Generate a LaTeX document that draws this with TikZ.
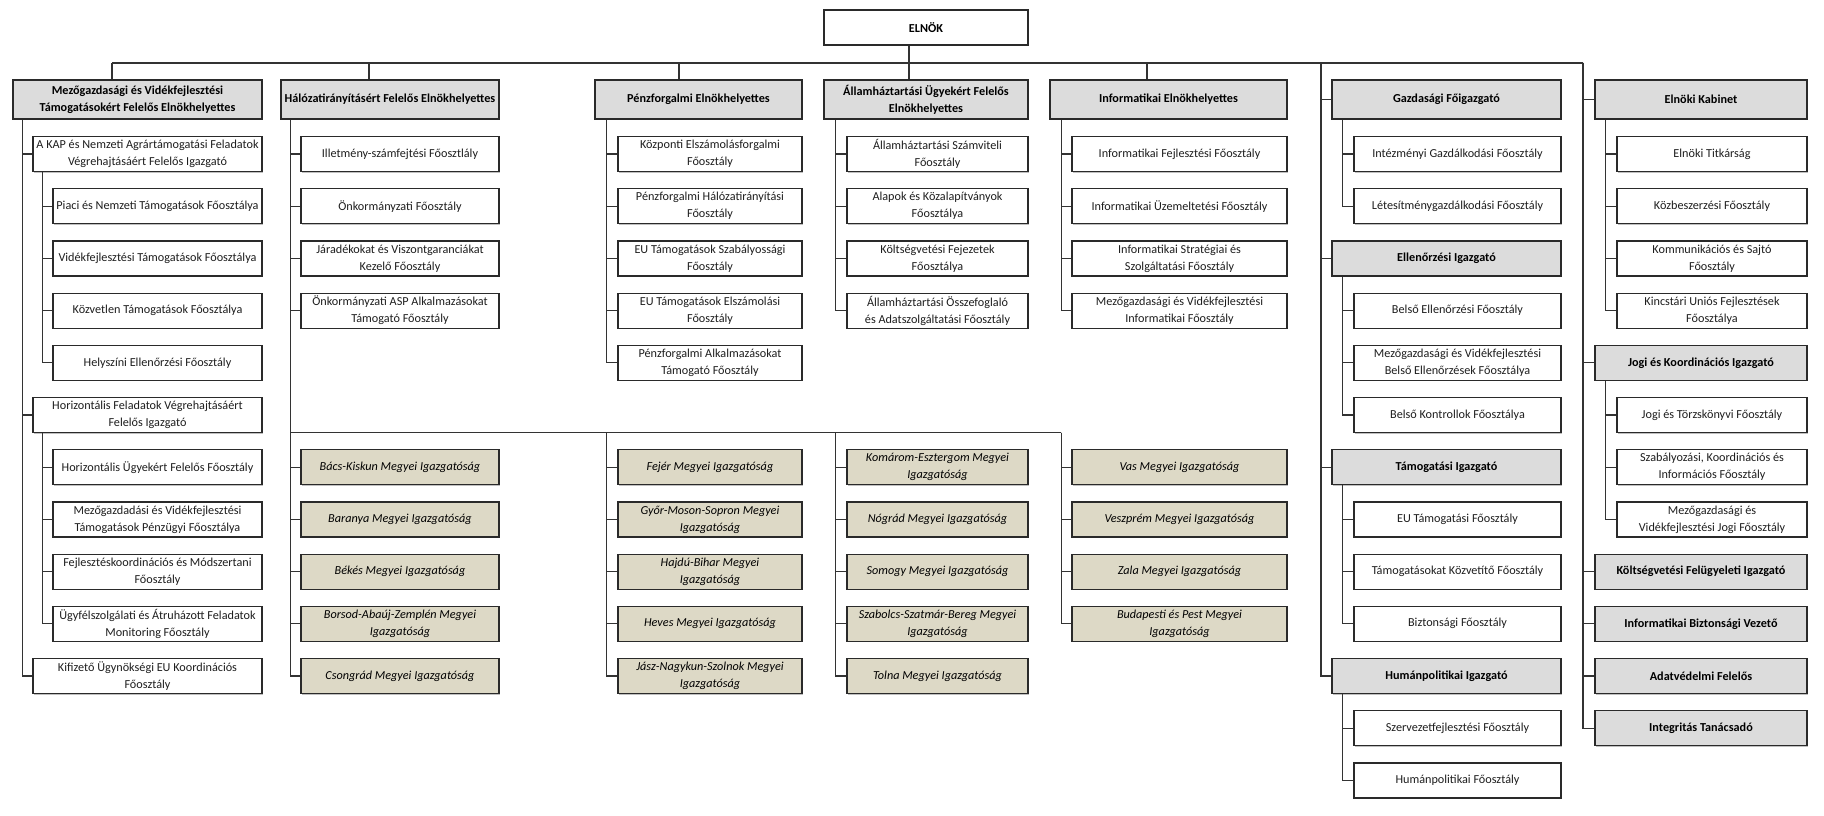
\documentclass[tikz,border=0pt]{standalone}
\usepackage{fontspec}
\setmainfont{Carlito}
\usetikzlibrary{shadows}
\definecolor{linec}{HTML}{333333}
\definecolor{boxline}{HTML}{2A2A2A}
\definecolor{hdrfill}{HTML}{DCDCDC}
\definecolor{cntyfill}{HTML}{DDD9C6}
\definecolor{txt}{HTML}{1E1E1E}
\begin{document}
\begin{tikzpicture}[x=1pt,y=-1pt,
  box/.style={draw=boxline, line width=1.2pt, fill=white, align=center, inner sep=0pt,
    minimum height=35pt, text=txt, font=\fontsize{12.2}{17}\selectfont,
    drop shadow={shadow xshift=0.9pt, shadow yshift=-1.1pt, opacity=0.25, fill=black}},
  hdr/.style={box, fill=hdrfill, text=black, font=\fontsize{12.2}{17}\selectfont\bfseries},
  cnty/.style={box, fill=cntyfill, text=black, font=\fontsize{12.2}{17}\selectfont\itshape},
  toprow/.style={minimum height=39pt},
  link/.style={draw=linec, line width=1.2pt},
  wAa/.style={minimum width=249pt}, wAb/.style={minimum width=229pt}, wAc/.style={minimum width=209pt},
  wBa/.style={minimum width=218pt}, wBb/.style={minimum width=198pt},
  wCa/.style={minimum width=207pt}, wCb/.style={minimum width=184pt},
  wDa/.style={minimum width=204pt}, wDb/.style={minimum width=181pt},
  wEa/.style={minimum width=237pt}, wEb/.style={minimum width=215pt},
  wFa/.style={minimum width=229pt}, wFb/.style={minimum width=207pt},
  wGa/.style={minimum width=212pt}, wGb/.style={minimum width=190pt}]
\fill[white] (0,0) rectangle (1824,816);
\useasboundingbox (0,0) rectangle (1824,816);

% ---------------- top ----------------
\node[box,wDa,font=\fontsize{12.2}{17}\selectfont\bfseries,text=black] (elnok) at (926,27.5) {ELNÖK};

% ---------------- column 1 ----------------
\node[hdr,toprow,wAa] (h1) at (137.5,99.5) {Mezőgazdasági és Vidékfejlesztési\\Támogatásokért Felelős Elnökhelyettes};
\node[box,wAb] (a1) at (147.5,154.0) {A KAP és Nemzeti Agrártámogatási Feladatok\\Végrehajtásáért Felelős Igazgató};
\node[box,wAc] (a1c1) at (157.5,206.2) {Piaci és Nemzeti Támogatások Főosztálya};
\node[box,wAc] (a1c2) at (157.5,258.4) {Vidékfejlesztési Támogatások Főosztálya};
\node[box,wAc] (a1c3) at (157.5,310.6) {Közvetlen Támogatások Főosztálya};
\node[box,wAc] (a1c4) at (157.5,362.8) {Helyszíni Ellenőrzési Főosztály};
\node[box,wAb] (a2) at (147.5,415.0) {Horizontális Feladatok Végrehajtásáért\\Felelős Igazgató};
\node[box,wAc] (a2c1) at (157.5,467.2) {Horizontális Ügyekért Felelős Főosztály};
\node[box,wAc] (a2c2) at (157.5,519.4) {Mezőgazdadási és Vidékfejlesztési\\Támogatások Pénzügyi Főosztálya};
\node[box,wAc] (a2c3) at (157.5,571.6) {Fejlesztéskoordinációs és Módszertani\\Főosztály};
\node[box,wAc] (a2c4) at (157.5,623.8) {Ügyfélszolgálati és Átruházott Feladatok\\Monitoring Főosztály};
\node[box,wAb] (a3) at (147.5,676.0) {Kifizető Ügynökségi EU Koordinációs\\Főosztály};

% ---------------- column 2 ----------------
\node[hdr,toprow,wBa] (h2) at (390,99.5) {Hálózatirányításért Felelős Elnökhelyettes};
\node[box,wBb] (b1) at (400,154.0) {Illetmény-számfejtési Főosztlály};
\node[box,wBb] (b2) at (400,206.2) {Önkormányzati Főosztály};
\node[box,wBb] (b3) at (400,258.4) {Járadékokat és Viszontgaranciákat\\Kezelő Főosztály};
\node[box,wBb] (b4) at (400,310.6) {Önkormányzati ASP Alkalmazásokat\\Támogató Főosztály};
\node[cnty,wBb] (m1) at (400,467.2) {Bács-Kiskun Megyei Igazgatóság};
\node[cnty,wBb] (m2) at (400,519.4) {Baranya Megyei Igazgatóság};
\node[cnty,wBb] (m3) at (400,571.6) {Békés Megyei Igazgatóság};
\node[cnty,wBb] (m4) at (400,623.8) {Borsod-Abaúj-Zemplén Megyei\\Igazgatóság};
\node[cnty,wBb] (m5) at (400,676.0) {Csongrád Megyei Igazgatóság};

% ---------------- column 3 ----------------
\node[hdr,toprow,wCa] (h3) at (698.5,99.5) {Pénzforgalmi Elnökhelyettes};
\node[box,wCb] (c1) at (710,154.0) {Központi Elszámolásforgalmi\\Főosztály};
\node[box,wCb] (c2) at (710,206.2) {Pénzforgalmi Hálózatirányítási\\Főosztály};
\node[box,wCb] (c3) at (710,258.4) {EU Támogatások Szabályossági\\Főosztály};
\node[box,wCb] (c4) at (710,310.6) {EU Támogatások Elszámolási\\Főosztály};
\node[box,wCb] (c5) at (710,362.8) {Pénzforgalmi Alkalmazásokat\\Támogató Főosztály};
\node[cnty,wCb] (m6) at (710,467.2) {Fejér Megyei Igazgatóság};
\node[cnty,wCb] (m7) at (710,519.4) {Győr-Moson-Sopron Megyei\\Igazgatóság};
\node[cnty,wCb] (m8) at (710,571.6) {Hajdú-Bihar Megyei\\Igazgatóság};
\node[cnty,wCb] (m9) at (710,623.8) {Heves Megyei Igazgatóság};
\node[cnty,wCb] (m10) at (710,676.0) {Jász-Nagykun-Szolnok Megyei\\Igazgatóság};

% ---------------- column 4 ----------------
\node[hdr,toprow,wDa] (h4) at (926,99.5) {Államháztartási Ügyekért Felelős\\Elnökhelyettes};
\node[box,wDb] (d1) at (937.5,154.0) {Államháztartási Számviteli\\Főosztály};
\node[box,wDb] (d2) at (937.5,206.2) {Alapok és Közalapítványok\\Főosztálya};
\node[box,wDb] (d3) at (937.5,258.4) {Költségvetési Fejezetek\\Főosztálya};
\node[box,wDb] (d4) at (937.5,310.6) {Államháztartási Összefoglaló\\és Adatszolgáltatási Főosztály};
\node[cnty,wDb] (m11) at (937.5,467.2) {Komárom-Esztergom Megyei\\Igazgatóság};
\node[cnty,wDb] (m12) at (937.5,519.4) {Nógrád Megyei Igazgatóság};
\node[cnty,wDb] (m13) at (937.5,571.6) {Somogy Megyei Igazgatóság};
\node[cnty,wDb] (m14) at (937.5,623.8) {Szabolcs-Szatmár-Bereg Megyei\\Igazgatóság};
\node[cnty,wDb] (m15) at (937.5,676.0) {Tolna Megyei Igazgatóság};

% ---------------- column 5 ----------------
\node[hdr,toprow,wEa] (h5) at (1168.5,99.5) {Informatikai Elnökhelyettes};
\node[box,wEb] (e1) at (1179.5,154.0) {Informatikai Fejlesztési Főosztály};
\node[box,wEb] (e2) at (1179.5,206.2) {Informatikai Üzemeltetési Főosztály};
\node[box,wEb] (e3) at (1179.5,258.4) {Informatikai Stratégiai és\\Szolgáltatási Főosztály};
\node[box,wEb] (e4) at (1179.5,310.6) {Mezőgazdasági és Vidékfejlesztési\\Informatikai Főosztály};
\node[cnty,wEb] (m16) at (1179.5,467.2) {Vas Megyei Igazgatóság};
\node[cnty,wEb] (m17) at (1179.5,519.4) {Veszprém Megyei Igazgatóság};
\node[cnty,wEb] (m18) at (1179.5,571.6) {Zala Megyei Igazgatóság};
\node[cnty,wEb] (m19) at (1179.5,623.8) {Budapesti és Pest Megyei\\Igazgatóság};

% ---------------- column 6 ----------------
\node[hdr,toprow,wFa] (g0) at (1446.5,99.5) {Gazdasági Főigazgató};
\node[box,wFb] (g0c1) at (1457.5,154.0) {Intézményi Gazdálkodási Főosztály};
\node[box,wFb] (g0c2) at (1457.5,206.2) {Létesítménygazdálkodási Főosztály};
\node[hdr,wFa] (g1) at (1446.5,258.4) {Ellenőrzési Igazgató};
\node[box,wFb] (g1c1) at (1457.5,310.6) {Belső Ellenőrzési Főosztály};
\node[box,wFb] (g1c2) at (1457.5,362.8) {Mezőgazdasági és Vidékfejlesztési\\Belső Ellenőrzések Főosztálya};
\node[box,wFb] (g1c3) at (1457.5,415.0) {Belső Kontrollok Főosztálya};
\node[hdr,wFa] (g2) at (1446.5,467.2) {Támogatási Igazgató};
\node[box,wFb] (g2c1) at (1457.5,519.4) {EU Támogatási Főosztály};
\node[box,wFb] (g2c2) at (1457.5,571.6) {Támogatásokat Közvetítő Főosztály};
\node[box,wFb] (g2c3) at (1457.5,623.8) {Biztonsági Főosztály};
\node[hdr,wFa] (g3) at (1446.5,676.0) {Humánpolitikai Igazgató};
\node[box,wFb] (g3c1) at (1457.5,728.2) {Szervezetfejlesztési Főosztály};
\node[box,wFb] (g3c2) at (1457.5,780.4) {Humánpolitikai Főosztály};

% ---------------- column 7 ----------------
\node[hdr,toprow,wGa] (k0) at (1701,99.5) {Elnöki Kabinet};
\node[box,wGb] (k0c1) at (1712,154.0) {Elnöki Titkárság};
\node[box,wGb] (k0c2) at (1712,206.2) {Közbeszerzési Főosztály};
\node[box,wGb] (k0c3) at (1712,258.4) {Kommunikációs és Sajtó\\Főosztály};
\node[box,wGb] (k0c4) at (1712,310.6) {Kincstári Uniós Fejlesztések\\Főosztálya};
\node[hdr,wGa] (k1) at (1701,362.8) {Jogi és Koordinációs Igazgató};
\node[box,wGb] (k1c1) at (1712,415.0) {Jogi és Törzskönyvi Főosztály};
\node[box,wGb] (k1c2) at (1712,467.2) {Szabályozási, Koordinációs és\\Információs Főosztály};
\node[box,wGb] (k1c3) at (1712,519.4) {Mezőgazdasági és\\Vidékfejlesztési Jogi Főosztály};
\node[hdr,wGa] (k2) at (1701,571.6) {Költségvetési Felügyeleti Igazgató};
\node[hdr,wGa] (k3) at (1701,623.8) {Informatikai Biztonsági Vezető};
\node[hdr,wGa] (k4) at (1701,676.0) {Adatvédelmi Felelős};
\node[hdr,wGa] (k5) at (1701,728.2) {Integritás Tanácsadó};

% ---------------- connectors ----------------
\coordinate (busL) at (112,63);
\coordinate (busR) at (1583,63);
\coordinate (dB) at (369,63);
\coordinate (dC) at (679,63);
\coordinate (dD) at (909,63);
\coordinate (dE) at (1147,63);
\coordinate (tF) at (1321,63);
\draw[link] (busL) -- (busR);
\draw[link] (busL) -- (busL |- h1.north);
\draw[link] (dB) -- (dB |- h2.north);
\draw[link] (dC) -- (dC |- h3.north);
\draw[link] (elnok.south -| dD) -- (dD |- h4.north);
\draw[link] (dE) -- (dE |- h5.north);

% column 1
\coordinate (t1) at ([xshift=10pt]h1.south west);
\foreach \n in {a1,a2,a3} \draw[link] (t1) |- (\n.west);
\coordinate (t1a) at ([xshift=10pt]a1.south west);
\foreach \n in {a1c1,a1c2,a1c3,a1c4} \draw[link] (t1a) |- (\n.west);
\coordinate (t1b) at ([xshift=10pt]a2.south west);
\foreach \n in {a2c1,a2c2,a2c3,a2c4} \draw[link] (t1b) |- (\n.west);

% column 2 (and county bus)
\coordinate (t2) at ([xshift=10pt]h2.south west);
\foreach \n in {b1,b2,b3,b4,m1,m2,m3,m4,m5} \draw[link] (t2) |- (\n.west);
\coordinate (cb) at (t2 |- 0,432.5);
\coordinate (t5) at ([xshift=12pt]h5.south west);
\coordinate (cbR) at (t5 |- cb);
\draw[link] (cb) -- (cbR);

% column 3
\coordinate (t3) at ([xshift=12pt]h3.south west);
\foreach \n in {c1,c2,c3,c4,c5} \draw[link] (t3) |- (\n.west);
\foreach \n in {m6,m7,m8,m9,m10} \draw[link] (cb -| t3) |- (\n.west);

% column 4
\coordinate (t4) at ([xshift=12pt]h4.south west);
\foreach \n in {d1,d2,d3,d4} \draw[link] (t4) |- (\n.west);
\foreach \n in {m11,m12,m13,m14,m15} \draw[link] (cb -| t4) |- (\n.west);

% column 5
\foreach \n in {e1,e2,e3,e4} \draw[link] (t5) |- (\n.west);
\foreach \n in {m16,m17,m18,m19} \draw[link] (cbR) |- (\n.west);

% column 6
\foreach \n in {g0,g1,g2,g3} \draw[link] (tF) |- (\n.west);
\coordinate (t6a) at ([xshift=11pt]g0.south west);
\foreach \n in {g0c1,g0c2} \draw[link] (t6a) |- (\n.west);
\coordinate (t6b) at ([xshift=11pt]g1.south west);
\foreach \n in {g1c1,g1c2,g1c3} \draw[link] (t6b) |- (\n.west);
\coordinate (t6c) at ([xshift=11pt]g2.south west);
\foreach \n in {g2c1,g2c2,g2c3} \draw[link] (t6c) |- (\n.west);
\coordinate (t6d) at ([xshift=11pt]g3.south west);
\foreach \n in {g3c1,g3c2} \draw[link] (t6d) |- (\n.west);

% column 7
\foreach \n in {k0,k1,k2,k3,k4,k5} \draw[link] (busR) |- (\n.west);
\coordinate (t7a) at ([xshift=11pt]k0.south west);
\foreach \n in {k0c1,k0c2,k0c3,k0c4} \draw[link] (t7a) |- (\n.west);
\coordinate (t7b) at ([xshift=11pt]k1.south west);
\foreach \n in {k1c1,k1c2,k1c3} \draw[link] (t7b) |- (\n.west);
\end{tikzpicture}
\end{document}
